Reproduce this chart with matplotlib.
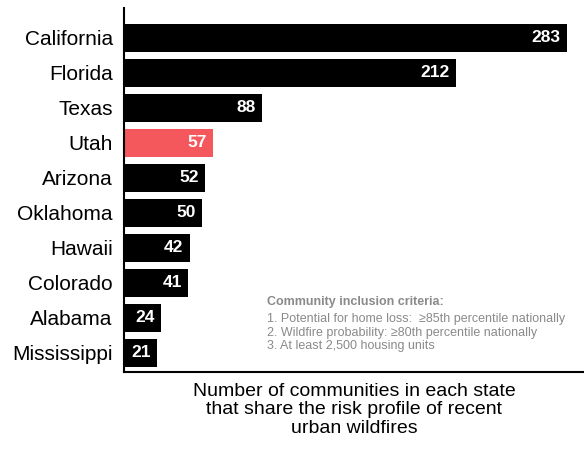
import matplotlib.pyplot as plt

states = ["California", "Florida", "Texas", "Utah", "Arizona", "Oklahoma",
          "Hawaii", "Colorado", "Alabama", "Mississippi"]
counts = [283, 212, 88, 57, 52, 50, 42, 41, 24, 21]
highlight = "Utah"

plt.rcParams["font.family"] = ["Liberation Sans", "DejaVu Sans"]

fig = plt.figure(figsize=(5.84, 4.54), dpi=100)
ax = fig.add_axes([0.212, 0.181, 0.788, 0.801])

colors = ["#f4575c" if s == highlight else "black" for s in states]
ypos = list(range(len(states)))
ax.barh(ypos, counts, height=0.8, color=colors)
for y, v in zip(ypos, counts):
    ax.text(v - 4, y, str(v), ha="right", va="center", color="white",
            fontsize=12.5, fontweight="bold")

ax.set_yticks(ypos)
ax.set_yticklabels(states, fontsize=15)
ax.set_ylim(len(states) - 0.45, -0.85)
ax.set_xlim(0, 294)
ax.set_xticks([])
ax.tick_params(axis="y", length=0, pad=8)
for side in ["top", "right"]:
    ax.spines[side].set_visible(False)
ax.spines["left"].set_linewidth(1.5)
ax.spines["bottom"].set_linewidth(1.5)

ax.set_xlabel("Number of communities in each state\nthat share the risk profile of recent\nurban wildfires",
              fontsize=14, linespacing=1.1, labelpad=8)

fig.text(0.457, 0.348, "Community inclusion criteria:",
         fontsize=9, fontweight="bold", color="#8a8a8a", ha="left", va="top")
fig.text(0.457, 0.311,
         "1. Potential for home loss:  \u226585th percentile nationally\n"
         "2. Wildfire probability: \u226580th percentile nationally\n"
         "3. At least 2,500 housing units",
         fontsize=9, color="#8a8a8a", ha="left", va="top", linespacing=1.2)

fig.savefig("out.png", dpi=100)
